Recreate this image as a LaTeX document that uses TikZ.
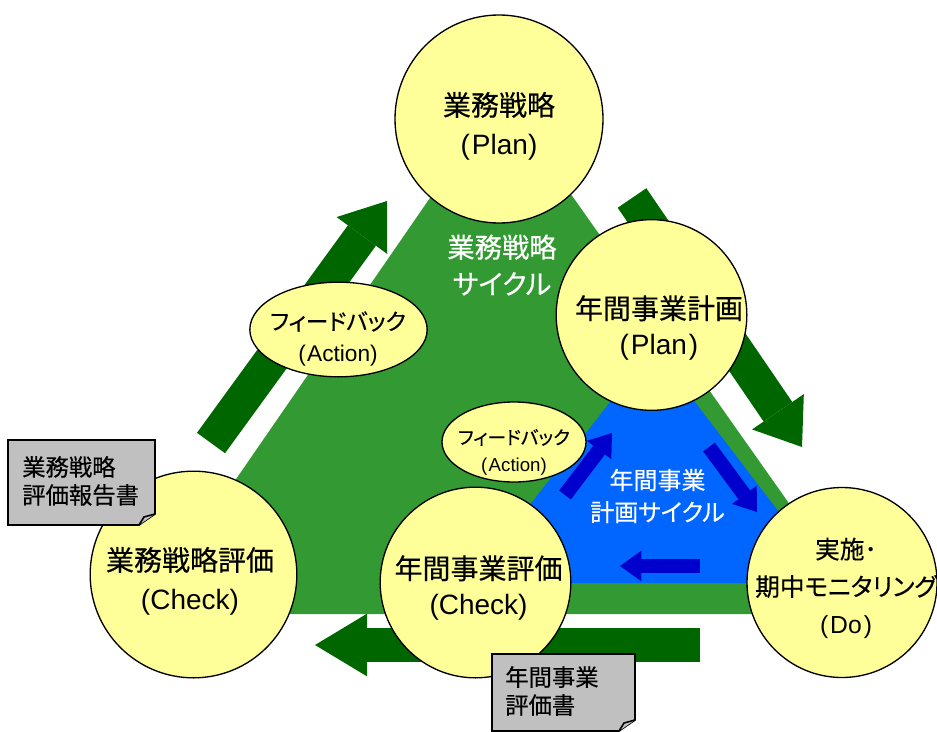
\documentclass[tikz,border=0pt]{standalone}
\usepackage{fontspec}
\setmainfont{Liberation Sans}
\newfontfamily\jp[RawFeature=+palt,FakeBold=0.4]{Noto Sans CJK JP}
\usepackage{tikz}
\usetikzlibrary{arrows.meta,shapes.geometric,calc}

\definecolor{cyclegreen}{HTML}{339933}
\definecolor{arrowgreen}{HTML}{006600}
\definecolor{cycleblue}{HTML}{0066FF}
\definecolor{arrowblue}{HTML}{0000CC}
\definecolor{paleyellow}{HTML}{FFFF99}
\definecolor{docgray}{HTML}{C0C0C0}

\begin{document}
\begin{tikzpicture}[x=0.75pt,y=-0.75pt]

\tikzset{circ/.style={circle, draw, line width=1pt, fill=paleyellow, minimum size=#1, inner sep=0pt},
         fb/.style={ellipse, draw, line width=1pt, fill=paleyellow, inner sep=0pt},
         lbl/.style={align=center, inner sep=0pt, font=\fontsize{21}{29}\selectfont},
         cyctext/.style={align=center, inner sep=0pt, text=white},
         bigarrow/.style={draw=arrowgreen, line width=26pt, -{Triangle[length=32pt,width=47pt,line width=0pt]}},
         smallarrow/.style={draw=arrowblue, line width=11pt, -{Triangle[length=16pt,width=23pt,line width=0pt]}},
         docbox/.style={draw, line width=1.2pt, fill=docgray},
         doctext/.style={align=left, inner sep=0pt, anchor=west, font=\jp\fontsize{17.5}{21}\selectfont}}

\useasboundingbox (0,0) rectangle (937,731);

% the two cycles
\fill[cyclegreen] (501,95) -- (867,614) -- (143,614) -- cycle;
\fill[cycleblue] (653,347) -- (833,583) -- (469,583) -- cycle;
\node[cyctext, font=\jp\fontsize{20.5}{27.5}\selectfont] (bizcyc) at (502,265) {業務戦略\\サイクル};
\node[cyctext, font=\jp\fontsize{18}{24}\selectfont] (yrcyc) at (657.5,496) {年間事業\\計画サイクル};

% flow arrows
\coordinate (up-tail) at (211,443);   \coordinate (up-tip) at (387,201);
\coordinate (down-tail) at (632,198); \coordinate (down-tip) at (802,447);
\coordinate (back-tail) at (700,645); \coordinate (back-tip) at (315,645);
\draw[bigarrow] (up-tail) -- (up-tip);
\draw[bigarrow] (down-tail) -- (down-tip);
\draw[bigarrow, -{Triangle[length=39pt,width=47pt,line width=0pt]}] (back-tail) -- (back-tip);

\coordinate (a-tail) at (565,495); \coordinate (a-tip) at (612,433);
\coordinate (b-tail) at (709,447); \coordinate (b-tip) at (757,512);
\coordinate (c-tail) at (700,566); \coordinate (c-tip) at (620,566);
\draw[smallarrow] (a-tail) -- (a-tip);
\draw[smallarrow] (b-tail) -- (b-tip);
\draw[smallarrow] (c-tail) -- (c-tip);

% stages
\node[circ=156pt] (bizplan) at (499,119) {};
\node[circ=155pt] (bizchk) at (193.5,574.5) {};
\node[circ=143pt] (yrplan) at (651.5,315) {};
\node[circ=143pt] (yrchk) at (475.5,582.5) {};
\node[circ=142.5pt] (yrdo) at (842,582.5) {};
\node[fb, minimum width=133pt, minimum height=71pt] (bizfb) at (338.5,329.5) {};
\node[fb, minimum width=108pt, minimum height=60pt] (yrfb) at (514,442) {};

\node[lbl] (bizplan-lbl) at (499,126) {{\jp 業務戦略}\\(\kern1.5pt Plan)};
\node[lbl] (bizchk-lbl) at (190,581) {{\jp 業務戦略評価}\\(Check)};
\node[lbl, font=\fontsize{21}{27}\selectfont] (yrplan-lbl) at (659,328) {{\jp 年間事業計画}\\(\kern1.5pt Plan\kern1.5pt)};
\node[lbl, font=\fontsize{21}{27}\selectfont] (yrchk-lbl) at (478.5,588) {{\jp 年間事業評価}\\(Check)};
\node[lbl, font=\fontsize{18.5}{28}\selectfont] (yrdo-lbl) at (846,588) {{\jp 実施･}\\{\jp 期中モニタリング}\\(\kern1.5pt Do\kern1.5pt)};
\node[lbl, font=\fontsize{17}{24}\selectfont] (bizfb-lbl) at (338,339) {{\jp フィードバック}\\(\kern1pt Action)};
\node[lbl, font=\fontsize{14}{20}\selectfont] (yrfb-lbl) at (514,452) {{\jp フィードバック}\\(\kern1pt Action)};

% reports
\coordinate (bizrep-nw) at (8,440);  \coordinate (bizrep-se) at (155,525);
\coordinate (yrrep-nw) at (492,654); \coordinate (yrrep-se) at (635,731);
\foreach \d in {bizrep,yrrep} {
  \filldraw[docbox] (\d-nw) -| ($(\d-se)+(0,-11)$) -- ($(\d-se)+(-16,0)$) -- (\d-nw |- \d-se) -- cycle;
  \draw[docbox] ($(\d-se)+(-16,0)$) -- ($(\d-se)+(-11,-8)$) -- ($(\d-se)+(0,-11)$);
}
\node[doctext] (bizrep) at (22,481) {業務戦略\\評価報告書};
\node[doctext] (yrrep) at (505,691) {年間事業\\評価書};

\end{tikzpicture}
\end{document}
